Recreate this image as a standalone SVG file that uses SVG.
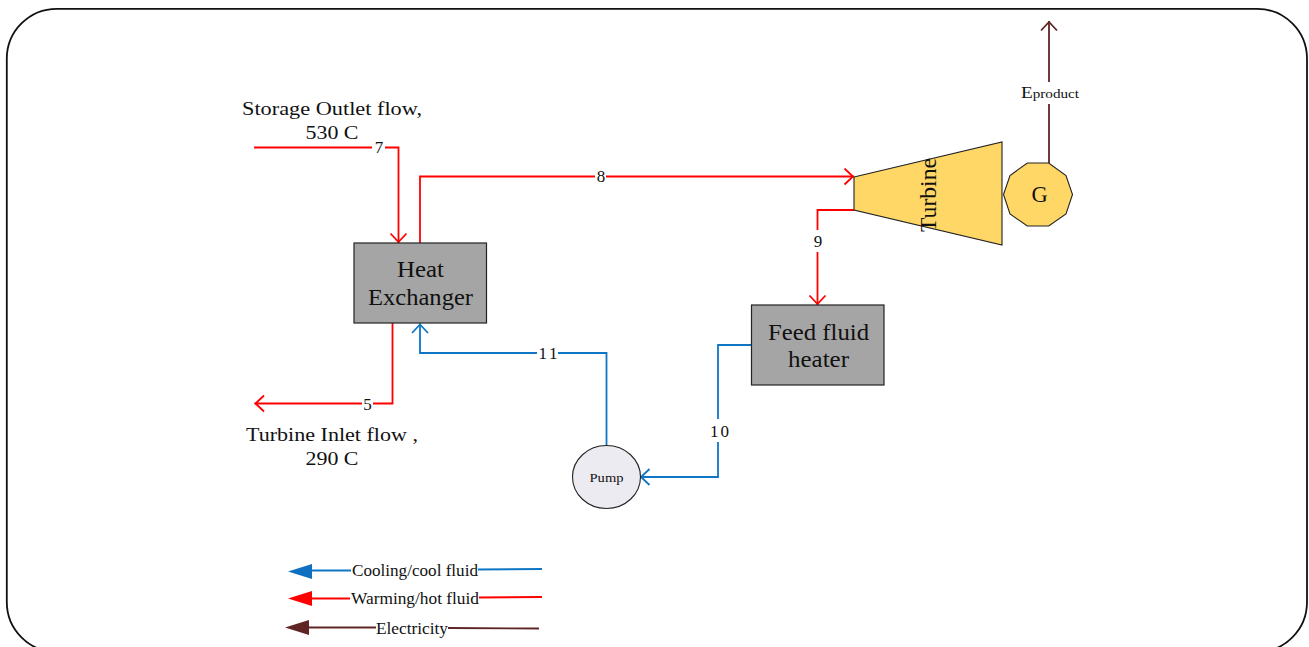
<svg xmlns="http://www.w3.org/2000/svg" width="1309" height="647" viewBox="0 0 1309 647">
<defs>
<style>
text{font-family:"Liberation Serif","Times New Roman",serif;fill:#111;text-anchor:middle}
.f{fill:none;stroke-width:1.8}
.r{stroke:#ff0000}.b{stroke:#0f76c6}.br{stroke:#5f2525}
.box{fill:#a5a5a5;stroke:#222;stroke-width:1.2}
.y{fill:#ffd766;stroke:#222;stroke-width:1.1}
.t22{font-size:22.500px}.t19{font-size:19.500px}.t16{font-size:17px}.t15{font-size:16px}
</style>
<marker id="ar" markerUnits="userSpaceOnUse" markerWidth="20" markerHeight="20" refX="11" refY="9" orient="auto"><path d="M1.500 1L10 9L1.500 17" fill="none" stroke="#ff0000" stroke-width="1.800"/></marker>
<marker id="ab" markerUnits="userSpaceOnUse" markerWidth="20" markerHeight="20" refX="11" refY="9" orient="auto"><path d="M1.500 1L10 9L1.500 17" fill="none" stroke="#0f76c6" stroke-width="1.800"/></marker>
<marker id="abr" markerUnits="userSpaceOnUse" markerWidth="20" markerHeight="20" refX="11" refY="9" orient="auto"><path d="M1.500 1L10 9L1.500 17" fill="none" stroke="#5f2525" stroke-width="1.800"/></marker>
</defs>
<rect id="frame" x="6.800" y="8.800" width="1300.200" height="643.200" rx="50" ry="50" fill="#fff" stroke="#111" stroke-width="1.800"/>
<g id="connectors">
<path class="f r" d="M254 147.500H372M385 147.500H398.500V243" marker-end="url(#ar)"/>
<path class="f r" d="M420 243V176.500H595M606 176.500H854" marker-end="url(#ar)"/>
<path class="f r" d="M854 210H817.500V230M817.500 252V305" marker-end="url(#ar)"/>
<path class="f r" d="M392.500 323V403.500H373M362 403.500H254.500" marker-end="url(#ar)"/>
<path class="f b" d="M606.500 446V353H558M537 353H420V323.500" marker-end="url(#ab)"/>
<path class="f b" d="M751 345H718V419M718 442V477H640" marker-end="url(#ab)"/>
<path class="f br" d="M1049 163V104M1049 82V21" marker-end="url(#abr)"/>
<g id="legend">
<path class="f b" d="M542 569L478 569.500M351 570.500H310"/><path d="M288 571.500L312 564V579Z" fill="#0f6fc0"/>
<path class="f r" d="M542 597L479 597.500M350 598.500H310"/><path d="M288 598.500L312 591V606Z" fill="#ff0000"/>
<path class="f br" d="M539 628.500L448 628M376 627.500H308"/><path d="M285 627.500L309 620V635Z" fill="#5f2525"/>
</g>
</g>
<g id="heat-exchanger"><rect class="box" x="354" y="243" width="132.500" height="80"/><text class="t22" x="420.500" y="277" textLength="47" lengthAdjust="spacingAndGlyphs">Heat</text><text class="t22" x="420.500" y="304.500" textLength="105" lengthAdjust="spacingAndGlyphs">Exchanger</text></g>
<g id="feed-fluid-heater"><rect class="box" x="751.500" y="305" width="132.500" height="80"/><text class="t22" x="818.500" y="339.500" textLength="101" lengthAdjust="spacingAndGlyphs">Feed fluid</text><text class="t22" x="818.500" y="366.500" textLength="61" lengthAdjust="spacingAndGlyphs">heater</text></g>
<g id="turbine"><path class="y" d="M854 177L1002 142V245L854 210Z"/><text class="t22" transform="translate(936 195) rotate(-90)" textLength="74" lengthAdjust="spacingAndGlyphs">Turbine</text></g>
<g id="generator"><path class="y" d="M1027.300 163H1048.700L1066 175.500L1072.500 194.500L1066 214L1048.700 226H1027.300L1010 214L1003.500 194.500L1010 175.500Z"/><text class="t22" x="1039.500" y="202">G</text></g>
<g id="pump"><ellipse cx="606.500" cy="477" rx="34" ry="31.500" fill="#edebf2" stroke="#222" stroke-width="1.100"/><text x="606.500" y="482" font-size="13" textLength="34" lengthAdjust="spacingAndGlyphs">Pump</text></g>
<g id="labels">
<text class="t19" x="332" y="115" textLength="180" lengthAdjust="spacingAndGlyphs">Storage Outlet flow,</text>
<text class="t19" x="332" y="139" textLength="53" lengthAdjust="spacingAndGlyphs">530 C</text>
<text class="t19" x="332" y="441" textLength="172" lengthAdjust="spacingAndGlyphs">Turbine Inlet flow ,</text>
<text class="t19" x="332" y="465" textLength="53" lengthAdjust="spacingAndGlyphs">290 C</text>
<text class="t16" x="379" y="153">7</text><text class="t16" x="601" y="182">8</text><text class="t16" x="818" y="247">9</text><text class="t16" x="367.500" y="410">5</text><text class="t16" x="548" y="359" textLength="19">11</text><text class="t16" x="719.500" y="437" textLength="19">10</text>
<text x="1050" y="98" font-size="13" textLength="58" lengthAdjust="spacingAndGlyphs"><tspan font-size="16.500">E</tspan>product</text>
<text class="t15" x="415" y="576" textLength="126" lengthAdjust="spacingAndGlyphs">Cooling/cool fluid</text>
<text class="t15" x="415" y="604" textLength="128" lengthAdjust="spacingAndGlyphs">Warming/hot fluid</text>
<text class="t15" x="412" y="634" textLength="72" lengthAdjust="spacingAndGlyphs">Electricity</text>
</g>
</svg>
